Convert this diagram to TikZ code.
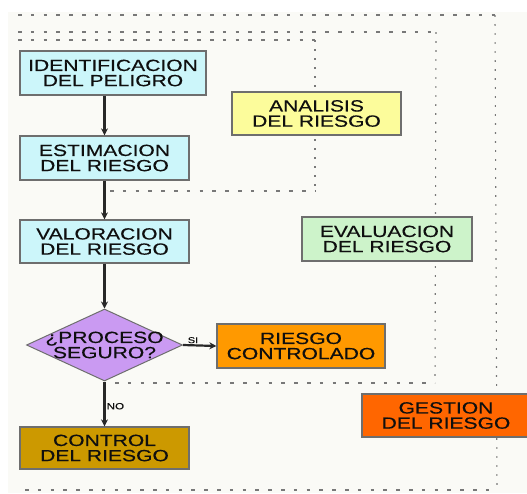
\documentclass[tikz,border=0pt]{standalone}
\usepackage{fontspec}
\setmainfont{Liberation Sans}[FakeStretch=1.3,FakeBold=0.4]
\usetikzlibrary{shapes.geometric,arrows.meta}
\definecolor{bgc}{RGB}{250,250,246}
\definecolor{cyanf}{RGB}{204,246,250}
\definecolor{yelf}{RGB}{252,252,155}
\definecolor{grnf}{RGB}{205,243,202}
\definecolor{lavf}{RGB}{202,154,242}
\definecolor{orf}{RGB}{255,153,0}
\definecolor{gesf}{RGB}{255,102,0}
\definecolor{conf}{RGB}{204,153,0}
\definecolor{bordc}{RGB}{110,110,110}
\definecolor{dotc}{RGB}{120,120,120}
\definecolor{arrc}{RGB}{40,40,40}
\definecolor{txtc}{RGB}{15,15,15}
\begin{document}
\begin{tikzpicture}[x=1pt,y=-1pt,
  box/.style={draw=bordc, line width=1.3pt, text=txtc, align=center, inner sep=0pt,
    font=\fontsize{16.2}{15.2}\selectfont},
  hdot/.style={draw=dotc, line width=1.1pt, dash pattern=on 3.5pt off 9.3pt},
  vdot/.style={draw=dotc, line width=1.1pt, dash pattern=on 1.8pt off 7.2pt},
  arr/.style={draw=arrc, line width=2.2pt, -{Stealth[length=7pt,width=7pt]}},
  lbl/.style={text=txtc, inner sep=1pt}]
\useasboundingbox (0,0) rectangle (527,493);
\fill[white] (0,0) rectangle (527,493);
\fill[bgc] (8,12) rectangle (527,493);
% dotted grouping lines
\draw[hdot] (18,15) -- (495,15);
\draw[vdot] (495,15) -- (497,490);
\draw[hdot] (25,490) -- (497,490);
\draw[hdot] (18,32) -- (436,32);
\draw[vdot] (436,32) -- (435,383);
\draw[hdot] (115,383) -- (435,383);
\draw[hdot] (18,40) -- (315,40);
\draw[vdot] (315,40) -- (315,191);
\draw[hdot] (110,191) -- (315,191);
% boxes
\node[box, fill=cyanf, minimum width=186pt, minimum height=44pt] (idp) at (113,73) {IDENTIFICACION\\DEL PELIGRO};
\node[box, fill=cyanf, minimum width=169pt, minimum height=44pt] (est) at (104.5,158) {ESTIMACION\\DEL RIESGO};
\node[box, fill=yelf, minimum width=169pt, minimum height=43pt] (ana) at (316.5,113.5) {ANALISIS\\DEL RIESGO};
\node[box, fill=cyanf, minimum width=169pt, minimum height=43pt] (val) at (104.5,241.5) {VALORACION\\DEL RIESGO};
\node[box, fill=grnf, minimum width=170pt, minimum height=44pt] (eva) at (387,239) {EVALUACION\\DEL RIESGO};
\node[draw=bordc, line width=1pt, fill=lavf, diamond, minimum width=156pt, minimum height=72pt, inner sep=0pt] (dec) at (104.5,345) {};
\node[text=txtc, align=center, font=\fontsize{16.2}{15.2}\selectfont] (dect) at (dec.center) {¿PROCESO\\SEGURO?};
\node[box, fill=orf, minimum width=168pt, minimum height=44pt] (ctl) at (301,346) {RIESGO\\CONTROLADO};
\node[box, fill=gesf, minimum width=168pt, minimum height=43pt] (ges) at (446,415.5) {GESTION\\DEL RIESGO};
\node[box, fill=conf, minimum width=169pt, minimum height=42pt] (con) at (104.5,448) {CONTROL\\DEL RIESGO};
% arrows
\draw[arr] (est.north |- idp.south) -- (est.north);
\draw[arr] (est.south) -- (val.north);
\draw[arr] (val.south) -- (dec.north);
\draw[arr] (dec.east) -- node[lbl, above, pos=0.3, font=\fontsize{8.5}{9}\selectfont] (si) {SI} (ctl.west);
\draw[arr] (dec.south) -- node[lbl, right, pos=0.55, font=\fontsize{9}{10}\selectfont] (no) {NO} (con.north);
\end{tikzpicture}
\end{document}
